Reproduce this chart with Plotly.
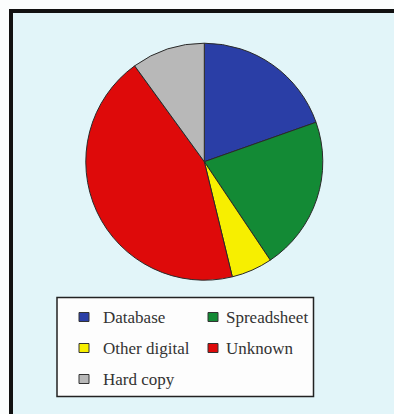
import plotly.graph_objects as go

# Share of records by storage format
labels = ["Database", "Spreadsheet", "Other digital", "Unknown", "Hard copy"]
shares = [19.6, 21.0, 5.6, 43.8, 10.0]
colors = ["#2a3ea6", "#138a35", "#f7ef00", "#de0a0a", "#b8b8b8"]

W, H = 394, 414
SERIF = "Liberation Serif, Times New Roman, DejaVu Serif, serif"
PANEL = "#e2f5f9"
OUTSIDE = "#fbfdfd"


def px(x):
    return x / W


def py(y):
    return 1 - y / H


# Pie geometry (pixels)
cx, cy, r = 204.3, 161.7, 118.5

fig = go.Figure(
    go.Pie(
        labels=labels,
        values=shares,
        sort=False,
        direction="clockwise",
        rotation=0,
        marker=dict(colors=colors, line=dict(color="#2a2a2a", width=1)),
        textinfo="none",
        hoverinfo="label+percent",
        showlegend=False,
        domain=dict(x=[px(cx - r), px(cx + r)], y=[py(cy + r), py(cy - r)]),
    )
)

shapes = [
    # light margin strips outside the framed panel
    dict(type="rect", xref="paper", yref="paper", layer="below",
         x0=0, x1=px(10), y0=0, y1=1, fillcolor=OUTSIDE, line=dict(width=0)),
    dict(type="rect", xref="paper", yref="paper", layer="below",
         x0=0, x1=1, y0=py(10), y1=1, fillcolor=OUTSIDE, line=dict(width=0)),
    # panel frame (left and top edges)
    dict(type="line", xref="paper", yref="paper", layer="below",
         x0=px(11), x1=px(11), y0=0, y1=py(9),
         line=dict(color="#111111", width=4)),
    dict(type="line", xref="paper", yref="paper", layer="below",
         x0=px(9), x1=1.0, y0=py(11), y1=py(11),
         line=dict(color="#111111", width=4)),
    # legend box
    dict(type="rect", xref="paper", yref="paper",
         x0=px(57), x1=px(313.5), y0=py(396.5), y1=py(297.5),
         fillcolor="#fdfdfd", line=dict(color="#222222", width=1.5)),
]
annotations = []

# legend entries in two columns
col_swatch = [79, 208]
col_text = [101, 224]
row_y = [317, 348, 379]
for i, (lab, col) in enumerate(zip(labels, colors)):
    c, rw = i % 2, i // 2
    sx, sy = col_swatch[c], row_y[rw]
    shapes.append(dict(type="rect", xref="paper", yref="paper",
                       x0=px(sx), x1=px(sx + 10), y0=py(sy + 4.5), y1=py(sy - 4.5),
                       fillcolor=col, line=dict(color="#333333", width=1)))
    annotations.append(dict(xref="paper", yref="paper", x=px(col_text[c]), y=py(sy),
                            xanchor="left", yanchor="middle", showarrow=False,
                            text=lab, font=dict(family=SERIF, size=17,
                                                color="#333333")))

fig.update_layout(
    width=W, height=H,
    margin=dict(l=0, r=0, t=0, b=0),
    paper_bgcolor=PANEL,
    plot_bgcolor=PANEL,
    font=dict(family=SERIF),
    shapes=shapes,
    annotations=annotations,
)

# keep the page from scrolling so the figure fills the window exactly
no_scroll = (
    "document.documentElement.style.overflow='hidden';"
    "document.body.style.overflow='hidden';"
    "document.body.style.margin='0';"
)
fig.write_html("out.html", post_script=no_scroll)
